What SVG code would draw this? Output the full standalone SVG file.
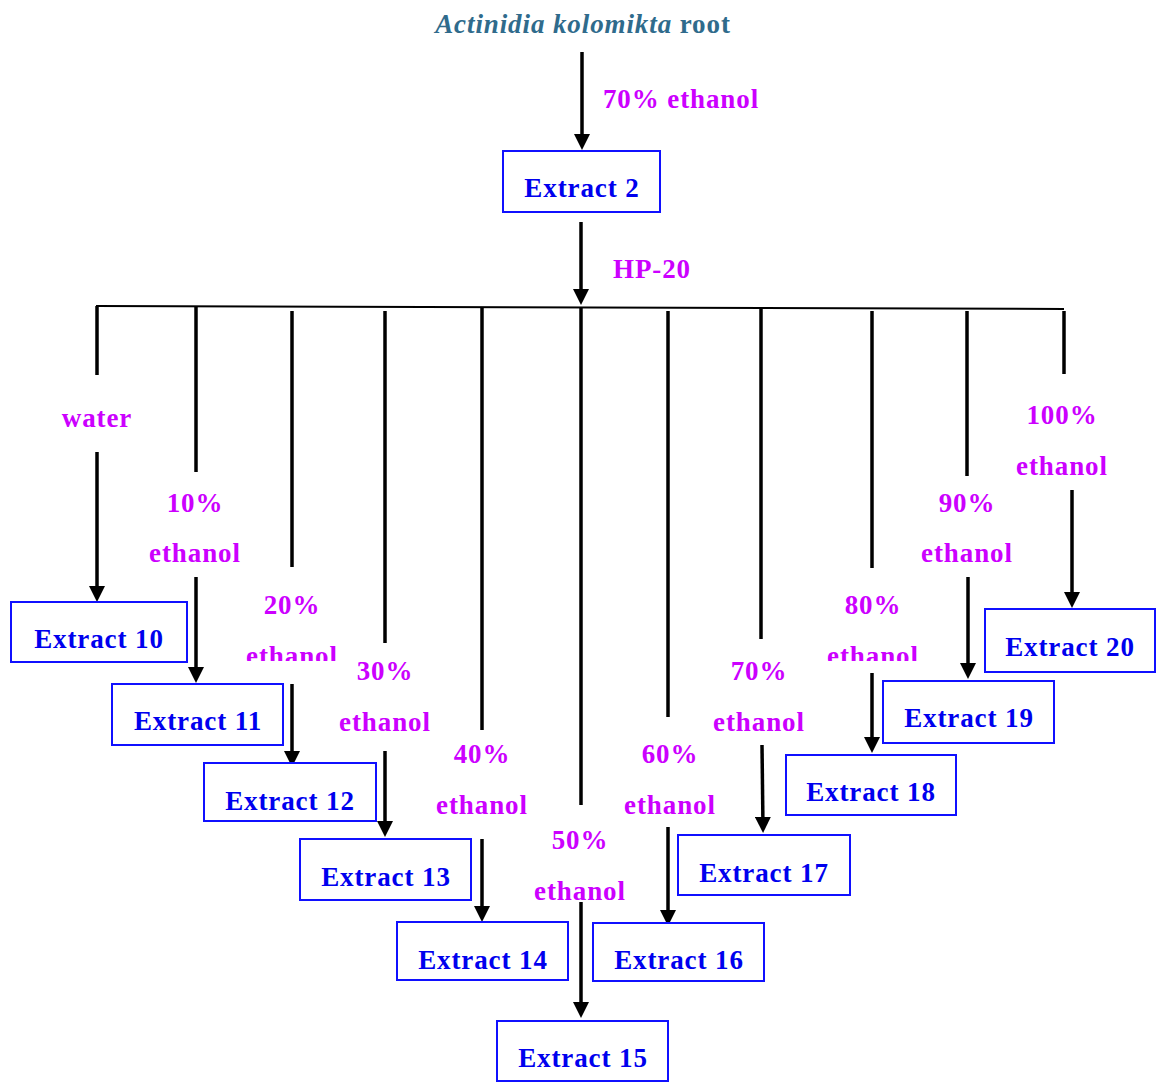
<svg xmlns="http://www.w3.org/2000/svg" width="1161" height="1082" viewBox="0 0 1161 1082">
<defs>
<marker id="ah" viewBox="0 0 16 16" refX="11" refY="8" markerWidth="16" markerHeight="16" markerUnits="userSpaceOnUse" orient="auto">
<path d="M0,0 L16,8 L0,16 z" fill="#000"/>
</marker>
<clipPath id="clipEth"><rect x="0" y="0" width="1161" height="661"/></clipPath>
</defs>
<style>
text{font-family:"Liberation Serif","Times New Roman",serif;font-weight:bold;font-size:27px;letter-spacing:0.9px;text-anchor:middle}
.lbl{fill:#cc00ff}
.box rect{fill:#fff;stroke:#1010ff;stroke-width:2}
.box text{fill:#0000ee}
.ln{stroke:#000;stroke-width:3.5;fill:none}
.arr{stroke:#000;stroke-width:3.5;fill:none;marker-end:url(#ah)}
.bar{stroke:#000;stroke-width:2;fill:none}
</style>
<rect width="1161" height="1082" fill="#fff"/>

<g id="title">
<text x="583" y="33" fill="#2f6b8c"><tspan font-style="italic">Actinidia kolomikta</tspan> root</text>
</g>

<g id="connectors">
<line class="arr" x1="582" y1="52" x2="582" y2="145"/>
<line class="arr" x1="581" y1="222" x2="581" y2="300"/>
<line class="bar" x1="96" y1="306" x2="1064" y2="309"/>
<line class="ln" x1="97" y1="306" x2="97" y2="375"/>
<line class="arr" x1="97" y1="452" x2="97" y2="597"/>
<line class="ln" x1="196" y1="306" x2="196" y2="472"/>
<line class="arr" x1="196" y1="577" x2="196" y2="678"/>
<line class="ln" x1="292" y1="311" x2="292" y2="567"/>
<line class="arr" x1="292" y1="684" x2="292" y2="762"/>
<line class="ln" x1="385" y1="311" x2="385" y2="643"/>
<line class="arr" x1="385" y1="751" x2="385" y2="832"/>
<line class="ln" x1="482" y1="307" x2="482" y2="730"/>
<line class="arr" x1="482" y1="839" x2="482" y2="917"/>
<line class="ln" x1="581" y1="307" x2="581" y2="805"/>
<line class="arr" x1="581" y1="902" x2="581" y2="1013"/>
<line class="ln" x1="668" y1="311" x2="668" y2="717"/>
<line class="arr" x1="668" y1="827" x2="668" y2="921"/>
<line class="ln" x1="761" y1="307" x2="761" y2="639"/>
<line class="arr" x1="762" y1="745" x2="763" y2="828"/>
<line class="ln" x1="872" y1="311" x2="872" y2="568"/>
<line class="arr" x1="872" y1="673" x2="872" y2="748"/>
<line class="ln" x1="967" y1="311" x2="967" y2="476"/>
<line class="arr" x1="968" y1="577" x2="968" y2="674"/>
<line class="ln" x1="1064" y1="311" x2="1064" y2="374"/>
<line class="arr" x1="1072" y1="490" x2="1072" y2="603"/>
</g>

<g id="labels">
<text class="lbl" x="681" y="108">70% ethanol</text>
<text class="lbl" x="652" y="278">HP-20</text>
<text class="lbl" x="97" y="427">water</text>
<text class="lbl" x="195" y="512">10%</text>
<text class="lbl" x="195" y="562">ethanol</text>
<text class="lbl" x="292" y="614">20%</text>
<text class="lbl" x="292" y="665" clip-path="url(#clipEth)">ethanol</text>
<text class="lbl" x="385" y="680">30%</text>
<text class="lbl" x="385" y="731">ethanol</text>
<text class="lbl" x="482" y="763">40%</text>
<text class="lbl" x="482" y="814">ethanol</text>
<text class="lbl" x="580" y="849">50%</text>
<text class="lbl" x="580" y="900">ethanol</text>
<text class="lbl" x="670" y="763">60%</text>
<text class="lbl" x="670" y="814">ethanol</text>
<text class="lbl" x="759" y="680">70%</text>
<text class="lbl" x="759" y="731">ethanol</text>
<text class="lbl" x="873" y="614">80%</text>
<text class="lbl" x="873" y="665" clip-path="url(#clipEth)">ethanol</text>
<text class="lbl" x="967" y="512">90%</text>
<text class="lbl" x="967" y="562">ethanol</text>
<text class="lbl" x="1062" y="424">100%</text>
<text class="lbl" x="1062" y="475">ethanol</text>
</g>

<g id="extract2" class="box"><rect x="503" y="151" width="157" height="61"/><text x="582" y="197">Extract 2</text></g>
<g id="extract10" class="box"><rect x="11" y="602" width="176" height="60"/><text x="99" y="648">Extract 10</text></g>
<g id="extract11" class="box"><rect x="112" y="684" width="171" height="61"/><text x="198" y="730">Extract 11</text></g>
<g id="extract12" class="box"><rect x="204" y="763" width="172" height="58"/><text x="290" y="810">Extract 12</text></g>
<g id="extract13" class="box"><rect x="300" y="839" width="171" height="61"/><text x="386" y="886">Extract 13</text></g>
<g id="extract14" class="box"><rect x="397" y="922" width="171" height="58"/><text x="483" y="969">Extract 14</text></g>
<g id="extract15" class="box"><rect x="497" y="1021" width="171" height="60"/><text x="583" y="1067">Extract 15</text></g>
<g id="extract16" class="box"><rect x="593" y="923" width="171" height="58"/><text x="679" y="969">Extract 16</text></g>
<g id="extract17" class="box"><rect x="678" y="835" width="172" height="60"/><text x="764" y="882">Extract 17</text></g>
<g id="extract18" class="box"><rect x="786" y="755" width="170" height="60"/><text x="871" y="801">Extract 18</text></g>
<g id="extract19" class="box"><rect x="883" y="681" width="171" height="62"/><text x="969" y="727">Extract 19</text></g>
<g id="extract20" class="box"><rect x="985" y="609" width="170" height="63"/><text x="1070" y="656">Extract 20</text></g>
</svg>
